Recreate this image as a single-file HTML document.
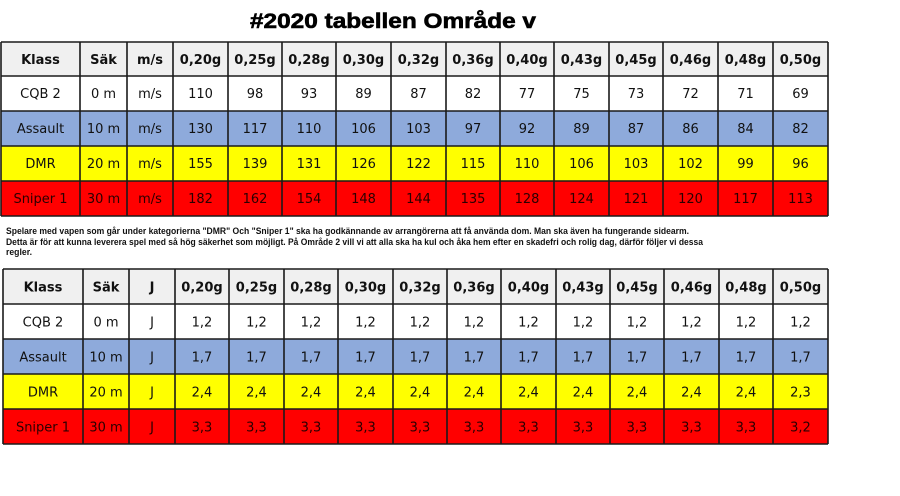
<!DOCTYPE html>
<html><head><meta charset="utf-8"><style>html,body{margin:0;padding:0;background:#fff;}svg{display:block;}</style></head>
<body>
<svg width="900" height="496" viewBox="0 0 900 496" xmlns="http://www.w3.org/2000/svg">
<rect width="900" height="496" fill="#fff"/>
<text x="250" y="28" font-family="Liberation Sans, Arial, sans-serif" font-weight="bold" font-size="21" textLength="286" lengthAdjust="spacingAndGlyphs" fill="#000" stroke="#000" stroke-width="0.6">#2020 tabellen Område v</text>

<!-- Table 1 backgrounds -->
<rect x="1" y="42" width="827" height="34" fill="#f0f0f0"/>
<rect x="1" y="76" width="827" height="35" fill="#ffffff"/>
<rect x="1" y="111" width="827" height="35" fill="#8eaadb"/>
<rect x="1" y="146" width="827" height="35" fill="#ffff00"/>
<rect x="1" y="181" width="827" height="35" fill="#ff0000"/>
<g stroke="#1a1a1a" stroke-width="1.6">
<line x1="1" y1="42" x2="828" y2="42"/><line x1="1" y1="76" x2="828" y2="76"/><line x1="1" y1="111" x2="828" y2="111"/><line x1="1" y1="146" x2="828" y2="146"/><line x1="1" y1="181" x2="828" y2="181"/><line x1="1" y1="216" x2="828" y2="216"/>
<line x1="1" y1="42" x2="1" y2="216"/><line x1="80" y1="42" x2="80" y2="216"/><line x1="127" y1="42" x2="127" y2="216"/><line x1="173" y1="42" x2="173" y2="216"/><line x1="228" y1="42" x2="228" y2="216"/><line x1="282" y1="42" x2="282" y2="216"/><line x1="336" y1="42" x2="336" y2="216"/><line x1="391" y1="42" x2="391" y2="216"/><line x1="446" y1="42" x2="446" y2="216"/><line x1="500" y1="42" x2="500" y2="216"/><line x1="554" y1="42" x2="554" y2="216"/><line x1="609" y1="42" x2="609" y2="216"/><line x1="663" y1="42" x2="663" y2="216"/><line x1="718" y1="42" x2="718" y2="216"/><line x1="773" y1="42" x2="773" y2="216"/><line x1="828" y1="42" x2="828" y2="216"/>
</g>
<g font-family="DejaVu Sans, Verdana, sans-serif" font-size="13" text-anchor="middle" fill="#111">
<g font-weight="bold">
<text x="40.5" y="64">Klass</text><text x="103.5" y="64">Säk</text><text x="150" y="64">m/s</text><text x="200.5" y="64">0,20g</text><text x="255" y="64">0,25g</text><text x="309" y="64">0,28g</text><text x="363.5" y="64">0,30g</text><text x="418.5" y="64">0,32g</text><text x="473" y="64">0,36g</text><text x="527" y="64">0,40g</text><text x="581.5" y="64">0,43g</text><text x="636" y="64">0,45g</text><text x="690.5" y="64">0,46g</text><text x="745.5" y="64">0,48g</text><text x="800.5" y="64">0,50g</text>
</g>
<text x="40.5" y="98">CQB 2</text><text x="103.5" y="98">0 m</text><text x="150" y="98">m/s</text><text x="200.5" y="98">110</text><text x="255" y="98">98</text><text x="309" y="98">93</text><text x="363.5" y="98">89</text><text x="418.5" y="98">87</text><text x="473" y="98">82</text><text x="527" y="98">77</text><text x="581.5" y="98">75</text><text x="636" y="98">73</text><text x="690.5" y="98">72</text><text x="745.5" y="98">71</text><text x="800.5" y="98">69</text>
<text x="40.5" y="133">Assault</text><text x="103.5" y="133">10 m</text><text x="150" y="133">m/s</text><text x="200.5" y="133">130</text><text x="255" y="133">117</text><text x="309" y="133">110</text><text x="363.5" y="133">106</text><text x="418.5" y="133">103</text><text x="473" y="133">97</text><text x="527" y="133">92</text><text x="581.5" y="133">89</text><text x="636" y="133">87</text><text x="690.5" y="133">86</text><text x="745.5" y="133">84</text><text x="800.5" y="133">82</text>
<text x="40.5" y="168">DMR</text><text x="103.5" y="168">20 m</text><text x="150" y="168">m/s</text><text x="200.5" y="168">155</text><text x="255" y="168">139</text><text x="309" y="168">131</text><text x="363.5" y="168">126</text><text x="418.5" y="168">122</text><text x="473" y="168">115</text><text x="527" y="168">110</text><text x="581.5" y="168">106</text><text x="636" y="168">103</text><text x="690.5" y="168">102</text><text x="745.5" y="168">99</text><text x="800.5" y="168">96</text>
<g fill="#2a0000">
<text x="40.5" y="203">Sniper 1</text><text x="103.5" y="203">30 m</text><text x="150" y="203">m/s</text><text x="200.5" y="203">182</text><text x="255" y="203">162</text><text x="309" y="203">154</text><text x="363.5" y="203">148</text><text x="418.5" y="203">144</text><text x="473" y="203">135</text><text x="527" y="203">128</text><text x="581.5" y="203">124</text><text x="636" y="203">121</text><text x="690.5" y="203">120</text><text x="745.5" y="203">117</text><text x="800.5" y="203">113</text>
</g>
</g>

<!-- Paragraph -->
<g font-family="Liberation Sans, Arial, sans-serif" font-weight="bold" font-size="9" fill="#111">
<text x="6" y="234" textLength="683" lengthAdjust="spacingAndGlyphs">Spelare med vapen som går under kategorierna "DMR" Och "Sniper 1" ska ha godkännande av arrangörerna att få använda dom. Man ska även ha fungerande sidearm.</text>
<text x="6" y="245" textLength="697" lengthAdjust="spacingAndGlyphs">Detta är för att kunna leverera spel med så hög säkerhet som möjligt. På Område 2 vill vi att alla ska ha kul och åka hem efter en skadefri och rolig dag, därför följer vi dessa</text>
<text x="6" y="255" textLength="26" lengthAdjust="spacingAndGlyphs">regler.</text>
</g>

<!-- Table 2 backgrounds -->
<rect x="3" y="269" width="825" height="35" fill="#f0f0f0"/>
<rect x="3" y="304" width="825" height="35" fill="#ffffff"/>
<rect x="3" y="339" width="825" height="35" fill="#8eaadb"/>
<rect x="3" y="374" width="825" height="35" fill="#ffff00"/>
<rect x="3" y="409" width="825" height="35" fill="#ff0000"/>
<g stroke="#1a1a1a" stroke-width="1.6">
<line x1="3" y1="269" x2="828" y2="269"/><line x1="3" y1="304" x2="828" y2="304"/><line x1="3" y1="339" x2="828" y2="339"/><line x1="3" y1="374" x2="828" y2="374"/><line x1="3" y1="409" x2="828" y2="409"/><line x1="3" y1="444" x2="828" y2="444"/>
<line x1="3" y1="269" x2="3" y2="444"/><line x1="83" y1="269" x2="83" y2="444"/><line x1="129" y1="269" x2="129" y2="444"/><line x1="175" y1="269" x2="175" y2="444"/><line x1="229" y1="269" x2="229" y2="444"/><line x1="284" y1="269" x2="284" y2="444"/><line x1="338" y1="269" x2="338" y2="444"/><line x1="393" y1="269" x2="393" y2="444"/><line x1="447" y1="269" x2="447" y2="444"/><line x1="501" y1="269" x2="501" y2="444"/><line x1="556" y1="269" x2="556" y2="444"/><line x1="610" y1="269" x2="610" y2="444"/><line x1="664" y1="269" x2="664" y2="444"/><line x1="719" y1="269" x2="719" y2="444"/><line x1="773" y1="269" x2="773" y2="444"/><line x1="828" y1="269" x2="828" y2="444"/>
</g>
<g font-family="DejaVu Sans, Verdana, sans-serif" font-size="13" text-anchor="middle" fill="#111">
<g font-weight="bold">
<text x="43" y="291.5">Klass</text><text x="106" y="291.5">Säk</text><text x="152" y="291.5">J</text><text x="202" y="291.5">0,20g</text><text x="256.5" y="291.5">0,25g</text><text x="311" y="291.5">0,28g</text><text x="365.5" y="291.5">0,30g</text><text x="420" y="291.5">0,32g</text><text x="474" y="291.5">0,36g</text><text x="528.5" y="291.5">0,40g</text><text x="583" y="291.5">0,43g</text><text x="637" y="291.5">0,45g</text><text x="691.5" y="291.5">0,46g</text><text x="746" y="291.5">0,48g</text><text x="800.5" y="291.5">0,50g</text>
</g>
<text x="43" y="326.5">CQB 2</text><text x="106" y="326.5">0 m</text><text x="152" y="326.5">J</text><text x="202" y="326.5">1,2</text><text x="256.5" y="326.5">1,2</text><text x="311" y="326.5">1,2</text><text x="365.5" y="326.5">1,2</text><text x="420" y="326.5">1,2</text><text x="474" y="326.5">1,2</text><text x="528.5" y="326.5">1,2</text><text x="583" y="326.5">1,2</text><text x="637" y="326.5">1,2</text><text x="691.5" y="326.5">1,2</text><text x="746" y="326.5">1,2</text><text x="800.5" y="326.5">1,2</text>
<text x="43" y="361.5">Assault</text><text x="106" y="361.5">10 m</text><text x="152" y="361.5">J</text><text x="202" y="361.5">1,7</text><text x="256.5" y="361.5">1,7</text><text x="311" y="361.5">1,7</text><text x="365.5" y="361.5">1,7</text><text x="420" y="361.5">1,7</text><text x="474" y="361.5">1,7</text><text x="528.5" y="361.5">1,7</text><text x="583" y="361.5">1,7</text><text x="637" y="361.5">1,7</text><text x="691.5" y="361.5">1,7</text><text x="746" y="361.5">1,7</text><text x="800.5" y="361.5">1,7</text>
<text x="43" y="396.5">DMR</text><text x="106" y="396.5">20 m</text><text x="152" y="396.5">J</text><text x="202" y="396.5">2,4</text><text x="256.5" y="396.5">2,4</text><text x="311" y="396.5">2,4</text><text x="365.5" y="396.5">2,4</text><text x="420" y="396.5">2,4</text><text x="474" y="396.5">2,4</text><text x="528.5" y="396.5">2,4</text><text x="583" y="396.5">2,4</text><text x="637" y="396.5">2,4</text><text x="691.5" y="396.5">2,4</text><text x="746" y="396.5">2,4</text><text x="800.5" y="396.5">2,3</text>
<g fill="#2a0000">
<text x="43" y="431.5">Sniper 1</text><text x="106" y="431.5">30 m</text><text x="152" y="431.5">J</text><text x="202" y="431.5">3,3</text><text x="256.5" y="431.5">3,3</text><text x="311" y="431.5">3,3</text><text x="365.5" y="431.5">3,3</text><text x="420" y="431.5">3,3</text><text x="474" y="431.5">3,3</text><text x="528.5" y="431.5">3,3</text><text x="583" y="431.5">3,3</text><text x="637" y="431.5">3,3</text><text x="691.5" y="431.5">3,3</text><text x="746" y="431.5">3,3</text><text x="800.5" y="431.5">3,2</text>
</g>
</g>
</svg>
</body></html>
